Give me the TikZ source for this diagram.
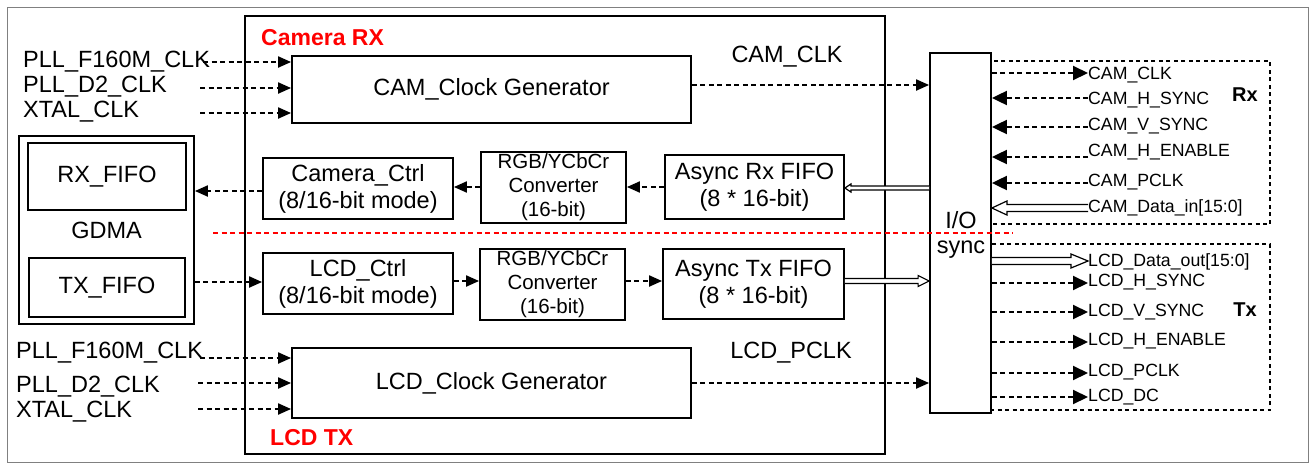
\documentclass[tikz,border=0pt]{standalone}
\usepackage{fontspec}
\setmainfont{Liberation Sans}
\usetikzlibrary{arrows.meta,calc}
\newcommand{\hollowarrow}[5]{%
  \draw[line width=1.2pt, fill=white] let \p1=#1, \p2=#2, \n1={sign(\x2-\x1)} in
    ({\x1},{\y1+#3}) -- ({\x2-(\n1)*(#4)},{\y1+#3}) -- ({\x2-(\n1)*(#4)},{\y1+#5}) -- ({\x2},{\y1})
    -- ({\x2-(\n1)*(#4)},{\y1-#5}) -- ({\x2-(\n1)*(#4)},{\y1-#3}) -- ({\x1},{\y1-#3});}
\begin{document}
\begin{tikzpicture}[x=1pt,y=-1pt,
  every node/.style={inner sep=0pt},
  box/.style={draw, line width=1.8pt, align=center, font=\fontsize{23.5}{27}\selectfont},
  sbox/.style={draw, line width=1.8pt, align=center, font=\fontsize{20.5}{24}\selectfont},
  lbl/.style={font=\fontsize{23.5}{27}\selectfont, anchor=base west},
  ctr/.style={font=\fontsize{23.5}{27}\selectfont, anchor=base},
  sl/.style={font=\fontsize{17.7}{21}\selectfont, anchor=base west},
  sig/.style={line width=2pt, dash pattern=on 5pt off 3.5pt, -{Triangle[length=13pt,width=11pt]}},
  sigR/.style={line width=2pt, dash pattern=on 5pt off 3.5pt, -{Triangle[length=15pt,width=14pt]}},
  dbox/.style={line width=1.8pt, dash pattern=on 4pt off 3.5pt},
  rtitle/.style={font=\bfseries\fontsize{23}{27}\selectfont, text=red, anchor=base west},
  bt/.style={font=\bfseries\fontsize{20}{24}\selectfont, anchor=base},
]
\useasboundingbox (0,0) rectangle (1311,464);
% frame and main block
\node[draw=gray, line width=1pt, minimum width=1301pt, minimum height=455pt] (frame) at (657.5,234.5) {};
\node[draw, line width=1.8pt, minimum width=640pt, minimum height=438pt] (main) at (565,235) {};
\node[rtitle] (camrx) at (261,45) {Camera RX};
\node[rtitle] (lcdtx) at (270,445) {LCD TX};

% boxes
\node[box, minimum width=399pt, minimum height=67pt] (camclk) at (491.5,89.5) {CAM\_Clock Generator};
\node[draw, line width=1.8pt, minimum width=175pt, minimum height=188pt] (gdma) at (106.5,230) {};
\node[box, minimum width=158pt, minimum height=67pt] (rxfifo) at (107,176.5) {RX\_FIFO};
\node[box, minimum width=156pt, minimum height=59pt] (txfifo) at (107,287.5) {TX\_FIFO};
\node[ctr] (gdmalbl) at (106.5,238) {GDMA};
\node[box, minimum width=190pt, minimum height=61pt] (camctrl) at (358,188.5) {Camera\_Ctrl\\(8/16-bit mode)};
\node[sbox, minimum width=145pt, minimum height=71pt] (rgbrx) at (553.5,187.5) {RGB/YCbCr\\Converter\\(16-bit)};
\node[box, minimum width=179pt, minimum height=64pt] (asyncrx) at (754.5,187) {Async Rx FIFO\\(8 * 16-bit)};
\node[box, minimum width=190pt, minimum height=61pt] (lcdctrl) at (358,283.5) {LCD\_Ctrl\\(8/16-bit mode)};
\node[sbox, minimum width=145pt, minimum height=71pt] (rgbtx) at (552.5,284.5) {RGB/YCbCr\\Converter\\(16-bit)};
\node[box, minimum width=181pt, minimum height=70pt] (asynctx) at (753.5,284) {Async Tx FIFO\\(8 * 16-bit)};
\node[box, minimum width=399pt, minimum height=70pt] (lcdclk) at (491.5,383) {LCD\_Clock Generator};
\node[draw, line width=1.8pt, minimum width=61pt, minimum height=360pt] (io) at (960.5,233) {};
\node[ctr] (iot1) at (961,228) {I/O};
\node[ctr] (iot2) at (961,253) {sync};

% clock labels
\node[ctr] (camclklbl) at (787,62) {CAM\_CLK};
\node[ctr] (lcdpclklbl) at (791,358) {LCD\_PCLK};

% left inputs
\node[lbl] (a1) at (23,67) {PLL\_F160M\_CLK};
\node[lbl] (a2) at (23,92) {PLL\_D2\_CLK};
\node[lbl] (a3) at (23,117) {XTAL\_CLK};
\node[lbl] (b1) at (16,358) {PLL\_F160M\_CLK};
\node[lbl] (b2) at (16,392) {PLL\_D2\_CLK};
\node[lbl] (b3) at (16,417) {XTAL\_CLK};
\coordinate (ca1) at (203,62);
\coordinate (ca2) at (200,88);
\coordinate (ca3) at (200,113);
\coordinate (cb1) at (200,358);
\coordinate (cb2) at (198,383);
\coordinate (cb3) at (198,409);
\draw[sig] (ca1) -- (camclk.west |- ca1);
\draw[sig] (ca2) -- (camclk.west |- ca2);
\draw[sig] (ca3) -- (camclk.west |- ca3);
\draw[sig] (cb1) -- (lcdclk.west |- cb1);
\draw[sig] (cb2) -- (lcdclk.west |- cb2);
\draw[sig] (cb3) -- (lcdclk.west |- cb3);

% internal connectors
\coordinate (camclkout) at ($(camclk.east)+(0,-4.5)$);
\draw[sig] (camclkout) -- (io.west |- camclkout);
\draw[sig] (lcdclk.east) -- (io.west |- lcdclk.east);
\draw[sig] (asyncrx.west) -- (rgbrx.east |- asyncrx.west);
\draw[sig] (rgbrx.west |- asyncrx.west) -- (camctrl.east |- asyncrx.west);
\coordinate (ccout) at ($(camctrl.west)+(0,2.5)$);
\draw[sig] (ccout) -- (gdma.east |- ccout);
\coordinate (lcin) at ($(lcdctrl.west)+(0,-1.5)$);
\draw[sig] (gdma.east |- lcin) -- (lcin);
\coordinate (lcout) at ($(lcdctrl.east)+(0,-2.5)$);
\draw[sig] (lcout) -- (rgbtx.west |- lcout);
\draw[sig] (rgbtx.east |- lcout) -- (asynctx.west |- lcout);
\coordinate (arxin) at ($(asyncrx.east)+(0,1)$);
\hollowarrow{(io.west |- arxin)}{(arxin)}{2pt}{6pt}{4pt}
\coordinate (atxout) at ($(asynctx.east)+(0,-3)$);
\hollowarrow{(atxout)}{(io.west |- atxout)}{2.5pt}{11pt}{5.5pt}

% Rx group
\draw[dbox] (991,61) rectangle (1270,224);
\node[sl] (cclk) at (1088,79.3) {CAM\_CLK};
\node[sl] (chs) at (1088,104) {CAM\_H\_SYNC};
\node[sl] (cvs) at (1088,130.7) {CAM\_V\_SYNC};
\node[sl] (che) at (1088,156.7) {CAM\_H\_ENABLE};
\node[sl] (cpc) at (1088,186.7) {CAM\_PCLK};
\node[sl] (cdata) at (1088,212.7) {CAM\_Data\_in[15:0]};
\node[bt] (rxlbl) at (1245,101.7) {Rx};
\coordinate (ycclk) at ($(cclk.base west)+(0,-6.3)$);
\coordinate (ychs) at ($(chs.base west)+(0,-6)$);
\coordinate (ycvs) at ($(cvs.base west)+(0,-3.7)$);
\coordinate (yche) at ($(che.base west)+(0,0.3)$);
\coordinate (ycpc) at ($(cpc.base west)+(0,-3.7)$);
\coordinate (ycdata) at ($(cdata.base west)+(0,-4.7)$);
\draw[sigR] (io.east |- ycclk) -- (ycclk);
\draw[sigR] (ychs) -- (io.east |- ychs);
\draw[sigR] (ycvs) -- (io.east |- ycvs);
\draw[sigR] (yche) -- (io.east |- yche);
\draw[sigR] (ycpc) -- (io.east |- ycpc);
\hollowarrow{(ycdata)}{(io.east)}{3.5pt}{15pt}{7pt}

% Tx group
\draw[dbox] (991,244) rectangle (1270,410);
\node[sl] (ldata) at (1088,266) {LCD\_Data\_out[15:0]};
\node[sl] (lhs) at (1088,286.7) {LCD\_H\_SYNC};
\node[sl] (lvs) at (1088,316) {LCD\_V\_SYNC};
\node[sl] (lhe) at (1088,345) {LCD\_H\_ENABLE};
\node[sl] (lpc) at (1088,376.7) {LCD\_PCLK};
\node[sl] (ldc) at (1088,401.7) {LCD\_DC};
\node[bt] (txlbl) at (1245,316) {Tx};
\coordinate (yldata) at ($(ldata.base west)+(0,-5)$);
\coordinate (ylhs) at ($(lhs.base west)+(0,-3.7)$);
\coordinate (ylvs) at ($(lvs.base west)+(0,-4)$);
\coordinate (ylhe) at ($(lhe.base west)+(0,-3)$);
\coordinate (ylpc) at ($(lpc.base west)+(0,-3.7)$);
\coordinate (yldc) at ($(ldc.base west)+(0,-4.7)$);
\hollowarrow{(io.east |- yldata)}{(yldata)}{3.5pt}{17pt}{7pt}
\draw[sigR] (io.east |- ylhs) -- (ylhs);
\draw[sigR] (io.east |- ylvs) -- (ylvs);
\draw[sigR] (io.east |- ylhe) -- (ylhe);
\draw[sigR] (io.east |- ylpc) -- (ylpc);
\draw[sigR] (io.east |- yldc) -- (yldc);

% red divider
\coordinate (rl1) at (213,233);
\coordinate (rl2) at (1013,233);
\draw[red, line width=2pt, dash pattern=on 5pt off 3.5pt] (rl1) -- (rl2);
\end{tikzpicture}
\end{document}
